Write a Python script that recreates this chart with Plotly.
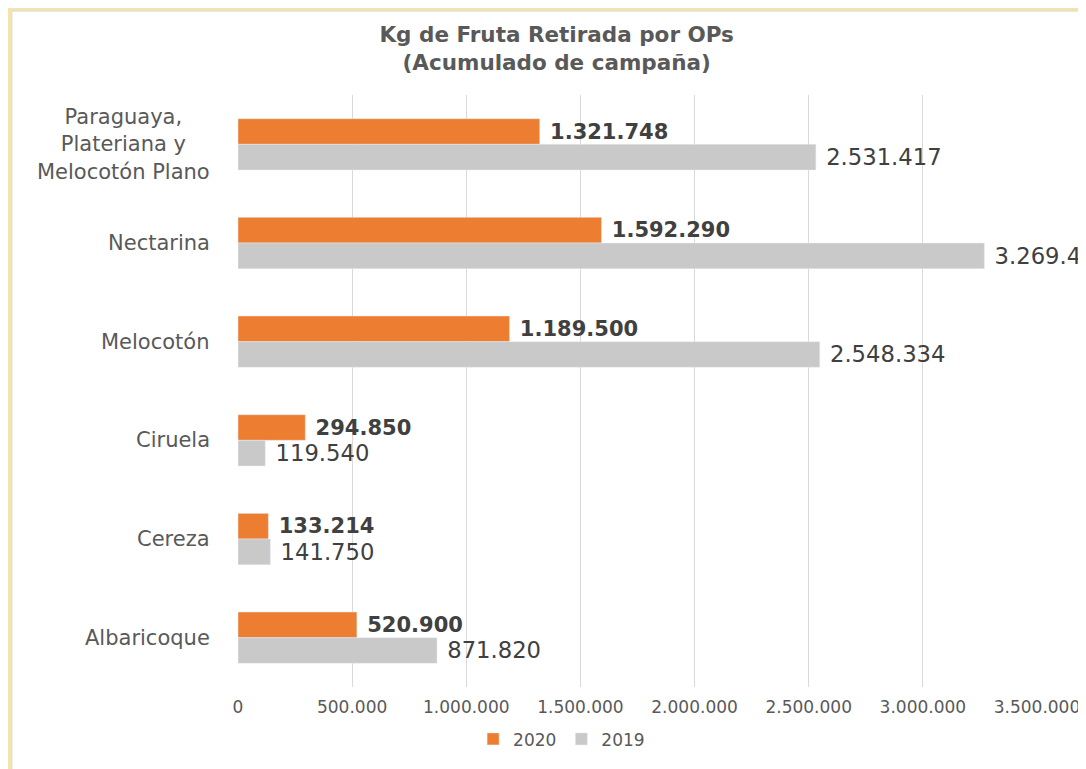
import plotly.graph_objects as go

categorias = ["Paraguaya,<br>Plateriana y<br>Melocotón Plano", "Nectarina", "Melocotón",
              "Ciruela", "Cereza", "Albaricoque"]
kg_2020 = [1321748, 1592290, 1189500, 294850, 133214, 520900]
kg_2019 = [2531417, 3269410, 2548334, 119540, 141750, 871820]
ticks_x = [0, 500000, 1000000, 1500000, 2000000, 2500000, 3000000, 3500000]

FONT = "DejaVu Sans"
GRIS = "#595959"

fig = go.Figure()
fig.add_trace(go.Bar(y=categorias, x=kg_2020, name="2020", orientation="h",
                     marker=dict(color="#ed7d31"),
                     texttemplate="\u00a0%{x:,.0f}", textposition="outside",
                     textfont=dict(family=FONT, size=21, color="#404040", weight="bold"),
                     cliponaxis=False))
fig.add_trace(go.Bar(y=categorias, x=kg_2019, name="2019", orientation="h",
                     marker=dict(color="#c9c9c9"),
                     texttemplate="\u00a0%{x:,.0f}", textposition="outside",
                     textfont=dict(family=FONT, size=23, color="#404040"),
                     cliponaxis=False))

# etiquetas de categoria centradas
for c in categorias:
    fig.add_annotation(x=0, y=c, xref="paper", yref="y", text=c, showarrow=False,
                       xanchor="right", align="center", xshift=-26,
                       font=dict(family=FONT, size=21, color=GRIS))

# panel blanco sobre fondo crema
fig.add_shape(type="rect", xref="paper", yref="paper", x0=-0.283, x1=1.2, y0=-0.3, y1=1.1417,
              fillcolor="white", line=dict(color="#d9d9d9", width=1), layer="below")

fig.update_layout(
    width=1078, height=761,
    paper_bgcolor="#f4e3ad", plot_bgcolor="white",
    margin=dict(l=230, r=49, t=87, b=74),
    barmode="group", bargap=0.48, bargroupgap=0,
    separators=",.",
    title=dict(text="<b>Kg de Fruta Retirada por OPs<br>(Acumulado de campaña)</b>",
               x=0.509, xanchor="center", y=0.955, yanchor="top",
               font=dict(family=FONT, size=21.5, color=GRIS)),
    legend=dict(orientation="h", x=0.405, xanchor="center", y=-0.058, yanchor="top",
                bgcolor="white", font=dict(family=FONT, size=17, color=GRIS),
                traceorder="normal"),
    showlegend=True,
)
fig.update_xaxes(range=[0, 3500000], tickvals=ticks_x, tickformat=",.0f", automargin=False,
                 showgrid=True, gridcolor="#d9d9d9", zeroline=False, showline=False,
                 tickfont=dict(family=FONT, size=17, color=GRIS), ticklabelstandoff=8)
fig.update_yaxes(autorange="reversed", showticklabels=False, showgrid=False, automargin=False,
                 showline=False, zeroline=False)

fig.write_html("out.html")
